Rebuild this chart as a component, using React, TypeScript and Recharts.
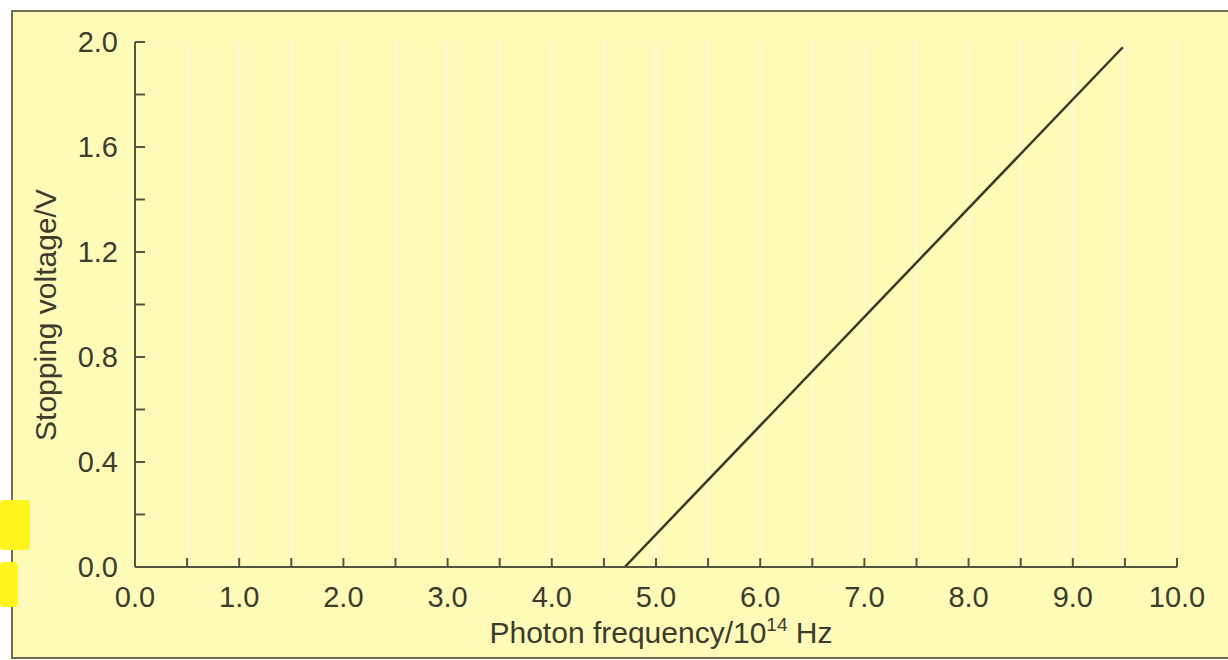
import React from "react";
import { LineChart, Line, XAxis, YAxis, CartesianGrid } from "recharts";

const lineData = [
  { f: 4.7, v: 0 },
  { f: 9.48, v: 1.98 },
];
const xTicks = [0, 0.5, 1, 1.5, 2, 2.5, 3, 3.5, 4, 4.5, 5, 5.5, 6, 6.5, 7, 7.5, 8, 8.5, 9, 9.5, 10];
const xLabeled = [0, 1, 2, 3, 4, 5, 6, 7, 8, 9, 10];
const yTicks = [0, 0.2, 0.4, 0.6, 0.8, 1.0, 1.2, 1.4, 1.6, 1.8, 2.0];
const yLabeled = [0, 0.4, 0.8, 1.2, 1.6, 2.0];

const INK = "#3d3c2c";
const AXIS = "#55543f";
const FONT = "'Liberation Sans', Arial, Helvetica, sans-serif";

const isLabeled = (list: number[], v: number) => list.some((t) => Math.abs(t - v) < 1e-6);

const XTick = (props: any) => {
  const { x, y, payload } = props;
  const v = payload.value as number;
  return (
    <g>
      <line x1={x} y1={y} x2={x} y2={y - 9} stroke={AXIS} strokeWidth={2} />
      {isLabeled(xLabeled, v) && (
        <text x={x} y={y + 40} textAnchor="middle" fill={INK} fontSize={29} fontFamily={FONT}>
          {v.toFixed(1)}
        </text>
      )}
    </g>
  );
};

const YTick = (props: any) => {
  const { x, y, payload } = props;
  const v = payload.value as number;
  return (
    <g>
      <line x1={x} y1={y} x2={x + 10} y2={y} stroke={AXIS} strokeWidth={2} />
      {isLabeled(yLabeled, v) && (
        <text x={x - 17} y={y + 10} textAnchor="end" fill={INK} fontSize={29} fontFamily={FONT}>
          {v.toFixed(1)}
        </text>
      )}
    </g>
  );
};

export default function App() {
  return (
    <div style={{ position: "fixed", left: 0, top: 0, width: 1228, height: 660, background: "#ffffff", overflow: "hidden" }}>
      <div
        style={{
          position: "absolute",
          left: 11,
          top: 10,
          width: 1230,
          height: 645,
          background: "#fefbb9",
          borderLeft: "2px solid #6e6d5e",
          borderTop: "2px solid #6e6d5e",
          borderBottom: "2px solid #6e6d5e",
        }}
      />
      <div style={{ position: "absolute", left: 0, top: 500, width: 30, height: 50, background: "#fff41c", borderRadius: 4 }} />
      <div style={{ position: "absolute", left: 0, top: 562, width: 18, height: 45, background: "#fff41c", borderRadius: 4 }} />
      <div style={{ position: "absolute", left: 0, top: 0 }}>
        <LineChart width={1228} height={660} data={lineData} margin={{ top: 42, right: 51, bottom: 33, left: 55 }}>
          <CartesianGrid horizontal={false} vertical={true} stroke="#ffffff" strokeOpacity={0.3} strokeWidth={3} />
          <XAxis
            type="number"
            dataKey="f"
            domain={[0, 10]}
            ticks={xTicks}
            interval={0}
            height={60}
            tickSize={0}
            tickMargin={0}
            tickLine={false}
            axisLine={{ stroke: AXIS, strokeWidth: 2 }}
            tick={<XTick />}
            allowDataOverflow
          />
          <YAxis
            type="number"
            domain={[0, 2]}
            ticks={yTicks}
            interval={0}
            width={80}
            tickSize={0}
            tickMargin={0}
            tickLine={false}
            axisLine={{ stroke: AXIS, strokeWidth: 2 }}
            tick={<YTick />}
            allowDataOverflow
          />
          <Line
            type="linear"
            dataKey="v"
            stroke="#3a3926"
            strokeWidth={2.5}
            dot={false}
            isAnimationActive={false}
          />
          <text x={661} y={643} textAnchor="middle" fill={INK} fontSize={30} fontFamily={FONT}>
            Photon frequency/10
            <tspan fontSize={19} dy={-12}>14</tspan>
            <tspan dy={12}> Hz</tspan>
          </text>
          <text
            x={45}
            y={315}
            textAnchor="middle"
            fill={INK}
            fontSize={30}
            fontFamily={FONT}
            transform="rotate(-90 45 315)"
            dominantBaseline="central"
          >
            Stopping voltage/V
          </text>
        </LineChart>
      </div>
    </div>
  );
}
